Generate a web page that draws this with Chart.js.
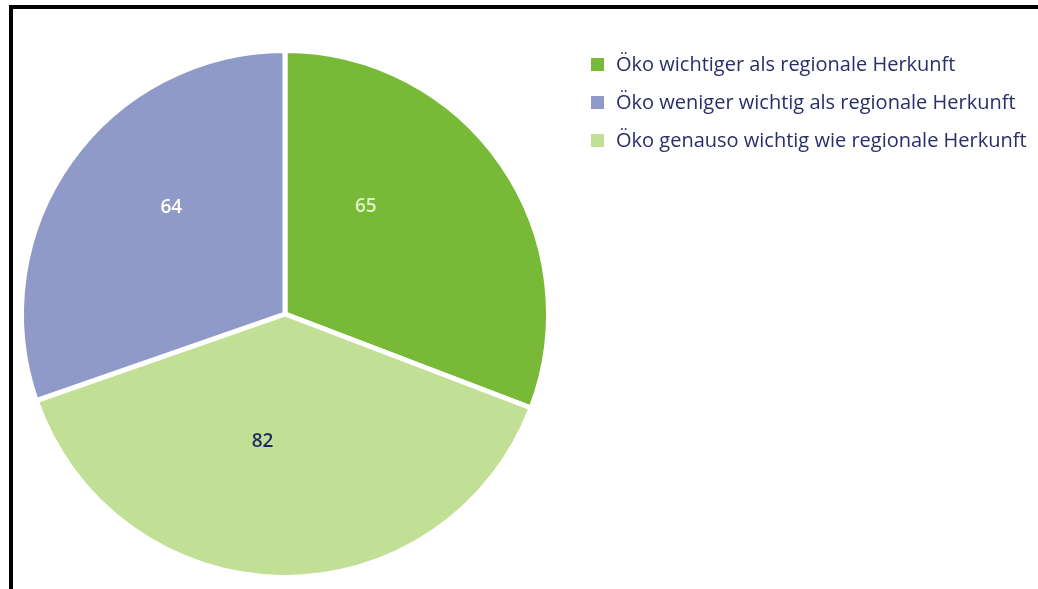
<!DOCTYPE html>
<html lang="de">
<head>
<meta charset="utf-8">
<title>Öko vs. regionale Herkunft</title>
<script src="https://cdn.jsdelivr.net/npm/chart.js@4.4.1/dist/chart.umd.min.js"></script>
<style>
  html, body { margin: 0; padding: 0; background: #fff; }
  #wrap { position: relative; width: 1038px; height: 589px; overflow: hidden; }
  #frame {
    position: absolute; left: 9px; top: 5px; right: -10px; bottom: -10px;
    border-top: 4px solid #000; border-left: 4px solid #000;
    pointer-events: none;
  }
  #pieChart { position: absolute; left: 0; top: 0; }
  #legend {
    position: absolute; left: 591px; top: 45px; margin: 0; padding: 0;
    list-style: none; font-family: "Open Sans", sans-serif; font-size: 20px;
    color: #2a2e6a;
  }
  #legend li { height: 38px; line-height: 28px; display: flex; align-items: center; }
  #legend li span.box { width: 13px; height: 13px; margin-right: 12px; display: inline-block; }
</style>
</head>
<body>
<div id="wrap">
  <canvas id="pieChart" width="1038" height="589"></canvas>
  <ul id="legend"></ul>
  <div id="frame"></div>
</div>
<script>
const categories = [
  'Öko wichtiger als regionale Herkunft',
  'Öko genauso wichtig wie regionale Herkunft',
  'Öko weniger wichtig als regionale Herkunft'
];
const values = [65, 82, 64];
const colors = ['#78b937', '#c2df96', '#8f9ac8'];
const labelColors = ['#dcf3c6', '#1f2a5c', '#ffffff'];

// legend order in the picture
const legendOrder = [0, 2, 1];

// where the value labels sit: angle (deg, 0 = right, clockwise) and share of the radius
const labelSpots = [
  { angle: -53, r: 0.51 },
  { angle: 100, r: 0.49 },
  { angle: -137, r: 0.59 }
];

const valueLabels = {
  id: 'valueLabels',
  afterDatasetsDraw(chart) {
    const ctx = chart.ctx;
    const arcs = chart.getDatasetMeta(0).data;
    ctx.save();
    ctx.font = '600 19px "Open Sans", sans-serif';
    ctx.textAlign = 'center';
    ctx.textBaseline = 'middle';
    arcs.forEach((arc, i) => {
      const spot = labelSpots[i];
      const a = spot.angle * Math.PI / 180;
      const x = arc.x + Math.cos(a) * arc.outerRadius * spot.r;
      const y = arc.y + Math.sin(a) * arc.outerRadius * spot.r;
      ctx.fillStyle = labelColors[i];
      ctx.fillText(values[i], x, y);
    });
    ctx.restore();
  }
};

const ctx = document.getElementById('pieChart').getContext('2d');
new Chart(ctx, {
  type: 'pie',
  data: {
    labels: categories,
    datasets: [{
      data: values,
      backgroundColor: colors,
      borderColor: '#ffffff',
      borderWidth: 5
    }]
  },
  options: {
    responsive: false,
    animation: false,
    layout: { padding: { left: 19, right: 487, top: 48, bottom: 9 } },
    plugins: {
      legend: { display: false },
      tooltip: { enabled: false }
    }
  },
  plugins: [valueLabels]
});

const legend = document.getElementById('legend');
legendOrder.forEach(i => {
  const li = document.createElement('li');
  li.innerHTML = '<span class="box" style="background:' + colors[i] + '"></span>' + categories[i];
  legend.appendChild(li);
});
</script>
</body>
</html>
